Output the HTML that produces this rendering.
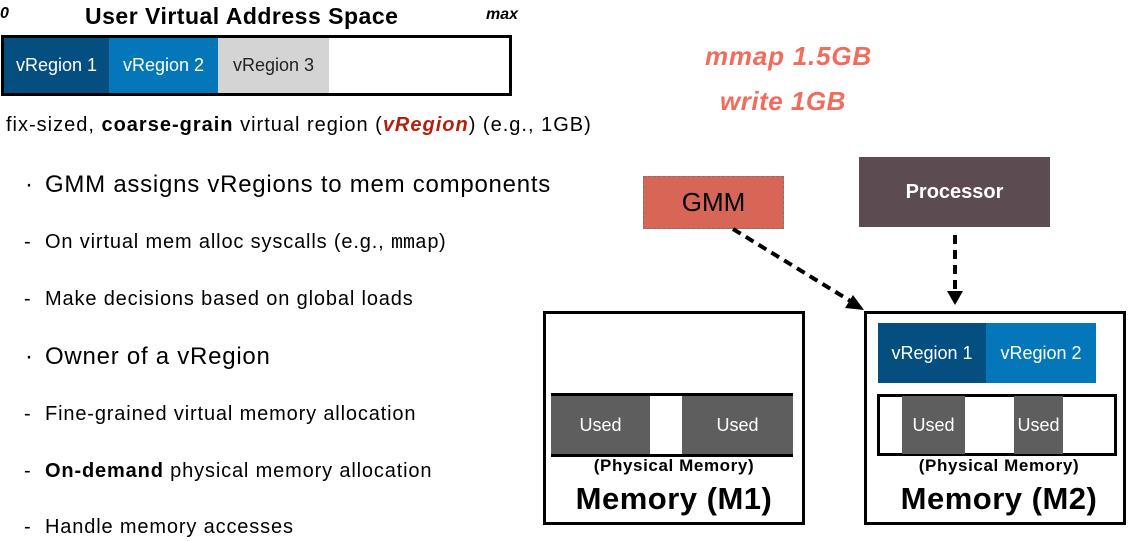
<html><head><style>
body{margin:0;width:1132px;height:541px;background:#fff;font-family:"Liberation Sans",sans-serif;position:relative;overflow:hidden}
div{position:absolute;box-sizing:border-box}
.c{display:flex;align-items:center;justify-content:center}
.t{white-space:nowrap}
.s{font-size:20px;letter-spacing:0.85px}
.b{font-size:24px;letter-spacing:0.75px}
</style></head><body>
<div class="t" style="left:0;top:5px;font:italic bold 16px 'Liberation Sans';">0</div>
<div class="t" style="left:85px;top:3px;font-weight:bold;font-size:23px;letter-spacing:0.5px">User Virtual Address Space</div>
<div class="t" style="left:486px;top:6px;font:italic bold 16px 'Liberation Sans'">max</div>
<div style="left:1px;top:35px;width:511px;height:61px;border:3px solid #000"></div>
<div class="c" style="left:4px;top:38px;width:105px;height:55px;background:#044f80;color:#fff;font-size:18px">vRegion 1</div>
<div class="c" style="left:109px;top:38px;width:109px;height:55px;background:#0377ba;color:#fff;font-size:18px">vRegion 2</div>
<div class="c" style="left:218px;top:38px;width:111px;height:55px;background:#d4d4d4;color:#222;font-size:18px">vRegion 3</div>
<div class="t" style="left:6px;top:114px;font-size:20px;letter-spacing:1px">fix-sized, <b>coarse-grain</b> virtual region (<b><i style="color:#b5200e">vRegion</i></b>) (e.g., 1GB)</div>
<div class="t b" style="left:25px;top:171px">·</div>
<div class="t b" style="left:25px;top:343px">·</div>
<div class="t b" style="left:45px;top:171px">GMM assigns vRegions to mem components</div>
<div class="t b" style="left:45px;top:343px">Owner of a vRegion</div>
<div class="t s" style="left:24px;top:231px">-</div>
<div class="t s" style="left:24px;top:288px">-</div>
<div class="t s" style="left:24px;top:403px">-</div>
<div class="t s" style="left:24px;top:460px">-</div>
<div class="t s" style="left:24px;top:516px">-</div>
<div class="t s" style="left:45px;top:231px">On virtual mem alloc syscalls (e.g., <span style="font-family:'Liberation Mono';letter-spacing:0">mmap</span>)</div>
<div class="t s" style="left:45px;top:288px">Make decisions based on global loads</div>
<div class="t s" style="left:45px;top:403px">Fine-grained virtual memory allocation</div>
<div class="t s" style="left:45px;top:460px"><b>On-demand</b> physical memory allocation</div>
<div class="t s" style="left:45px;top:516px">Handle memory accesses</div>
<div class="t" style="left:705px;top:41px;font:italic bold 26px 'Liberation Sans';letter-spacing:0.8px;color:#f26b5b">mmap 1.5GB</div>
<div class="t" style="left:720px;top:86px;font:italic bold 26px 'Liberation Sans';letter-spacing:0.5px;color:#f26b5b">write 1GB</div>
<div class="c" style="left:643px;top:176px;width:141px;height:53px;background:#d86656;border:1px dashed #777;font-size:26px">GMM</div>
<div class="c" style="left:859px;top:157px;width:191px;height:70px;background:#5c4c52;color:#fff;font-weight:bold;font-size:20px">Processor</div>
<svg style="position:absolute;left:0;top:0" width="1132" height="541">
<line x1="733" y1="229" x2="852" y2="302" stroke="#000" stroke-width="4" stroke-dasharray="9,6"/>
<polygon points="864,310 845,308 853,295" fill="#000"/>
<line x1="955" y1="235" x2="955" y2="292" stroke="#000" stroke-width="4" stroke-dasharray="9,6"/>
<polygon points="947,291 963,291 955,305" fill="#000"/>
</svg>
<div style="left:543px;top:311px;width:262px;height:214px;border:3px solid #000"></div>
<div style="left:551px;top:393px;width:242px;height:64px;border-top:3px solid #000;border-bottom:3px solid #000"></div>
<div class="c" style="left:551px;top:396px;width:99px;height:58px;background:#5e5e5e;color:#fff;font-size:18px">Used</div>
<div class="c" style="left:682px;top:396px;width:111px;height:58px;background:#5e5e5e;color:#fff;font-size:18px">Used</div>
<div class="t c" style="left:543px;top:456px;width:262px;font-weight:bold;font-size:17px;letter-spacing:0.6px">(Physical Memory)</div>
<div class="t c" style="left:543px;top:481px;width:262px;font-weight:bold;font-size:31px;letter-spacing:0.5px">Memory (M1)</div>
<div style="left:864px;top:311px;width:262px;height:214px;border:3px solid #000"></div>
<div class="c" style="left:878px;top:323px;width:108px;height:60px;background:#044f80;color:#fff;font-size:18px">vRegion 1</div>
<div class="c" style="left:986px;top:323px;width:110px;height:60px;background:#0377ba;color:#fff;font-size:18px">vRegion 2</div>
<div style="left:877px;top:394px;width:240px;height:62px;border:3px solid #000"></div>
<div class="c" style="left:902px;top:396px;width:63px;height:58px;background:#5e5e5e;color:#fff;font-size:18px">Used</div>
<div class="c" style="left:1014px;top:396px;width:49px;height:58px;background:#5e5e5e;color:#fff;font-size:18px">Used</div>
<div class="t c" style="left:864px;top:456px;width:270px;font-weight:bold;font-size:17px;letter-spacing:0.6px">(Physical Memory)</div>
<div class="t c" style="left:864px;top:481px;width:270px;font-weight:bold;font-size:31px;letter-spacing:0.5px">Memory (M2)</div>
</body></html>
